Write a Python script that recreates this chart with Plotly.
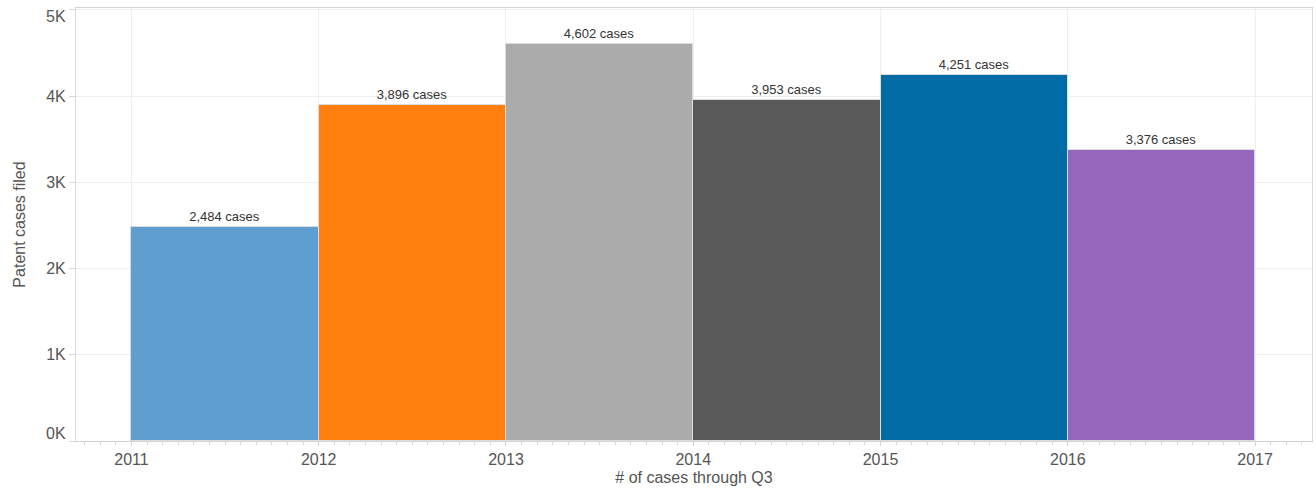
import plotly.graph_objects as go

years = [2011, 2012, 2013, 2014, 2015, 2016]
cases = [2484, 3896, 4602, 3953, 4251, 3376]
colors = ["#5f9ed1", "#ff800e", "#ababab", "#595959", "#006ba4", "#9467bd"]
ytick_vals = [0, 1000, 2000, 3000, 4000, 5000]
ytick_text = ["0K", "1K", "2K", "3K", "4K", "5K"]
xtick_vals = [2011, 2012, 2013, 2014, 2015, 2016, 2017]

labels = [f"{v:,} cases" for v in cases]
font_fam = "Arial, Liberation Sans, sans-serif"

fig = go.Figure()
fig.add_trace(go.Bar(
    x=[y + 0.5 for y in years],
    y=cases,
    width=[1] * len(years),
    marker=dict(color=colors, line=dict(color="#dcdcdc", width=1)),
    text=labels,
    textposition="outside",
    textfont=dict(size=13, color="#333333", family=font_fam),
    cliponaxis=False,
    hoverinfo="skip",
))

# y tick labels: inner ones as normal tick labels, edge ones nudged inward (as in the reference)
inner_text = [t if v not in (ytick_vals[0], ytick_vals[-1]) else "" for v, t in zip(ytick_vals, ytick_text)]
annotations = []
for v, t in zip(ytick_vals, ytick_text):
    if v == ytick_vals[0]:
        shift = 8
    elif v == ytick_vals[-1]:
        shift = -7
    else:
        continue
    annotations.append(dict(
        x=0, xref="paper", xanchor="right", xshift=-8,
        y=v, yref="y", yanchor="middle", yshift=shift,
        text=t, showarrow=False,
        font=dict(size=16, color="#555555", family=font_fam),
    ))

fig.update_layout(
    width=1316, height=491,
    margin=dict(l=76, r=4, t=8, b=50),
    paper_bgcolor="white", plot_bgcolor="white",
    showlegend=False,
    bargap=0,
    font=dict(family=font_fam, color="#555555"),
    annotations=annotations,
    xaxis=dict(
        range=[2010.704, 2017.304],
        tickvals=xtick_vals,
        ticktext=[str(v) for v in xtick_vals],
        tickfont=dict(size=16, color="#555555"),
        showgrid=True, gridcolor="#efefef", gridwidth=1,
        showline=True, linecolor="#d4d4d4", linewidth=1, mirror=True,
        ticks="outside", ticklen=4, tickcolor="#d4d4d4",
        minor=dict(dtick=1/12, tick0=2011, ticks="outside", ticklen=3, tickcolor="#d9d9d9", showgrid=False),
        zeroline=False,
        title=dict(text="# of cases through Q3", font=dict(size=16, color="#555555"), standoff=4),
    ),
    yaxis=dict(
        range=[0, 5023],
        tickvals=ytick_vals,
        ticktext=inner_text,
        tickfont=dict(size=16, color="#555555"),
        showgrid=True, gridcolor="#efefef", gridwidth=1,
        showline=True, linecolor="#d9d9d9", linewidth=1, mirror=True,
        ticks="outside", ticklen=6, tickcolor="#d9d9d9",
        zeroline=False,
        title=dict(text="Patent cases filed", font=dict(size=16, color="#555555"), standoff=16),
    ),
)

fig.write_html("out.html")
